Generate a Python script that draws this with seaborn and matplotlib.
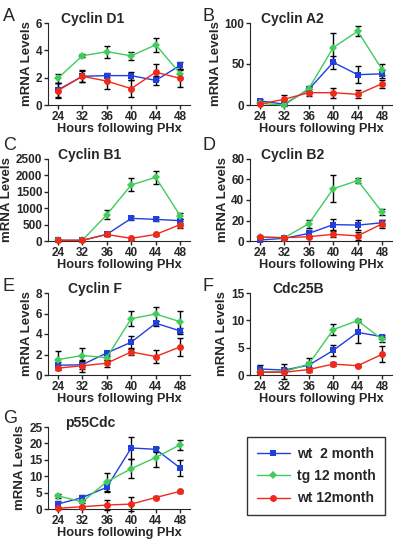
import numpy as np
import pandas as pd
import seaborn as sns
import matplotlib.pyplot as plt

hours = ["24", "32", "36", "40", "44", "48"]
groups = ["wt  2 month", "tg 12 month", "wt 12month"]

# mean values per panel, order: wt 2 month, tg 12 month, wt 12 month
d1_wt2 = [1.1, 2.1, 2.15, 2.15, 1.8, 2.9]
d1_tg12 = [1.95, 3.6, 3.9, 3.6, 4.4, 2.3]
d1_wt12 = [1.05, 2.1, 1.75, 1.2, 2.4, 1.95]
d1_err = [[0.5, 0.4, 0.1, 0.3, 0.35, 0.25], [0.35, 0.1, 0.45, 0.3, 0.5, 0.3], [0.55, 0.45, 0.6, 0.65, 0.6, 0.6]]

a2_wt2 = [5, 1, 19, 52, 37, 38]
a2_tg12 = [2, 0, 20, 70, 90, 43]
a2_wt12 = [1, 7, 15, 15, 13, 26]
a2_err = [[2, 1, 3, 8, 10, 5], [1, 1, 3, 18, 6, 7], [1, 5, 4, 6, 5, 5]]

b1_wt2 = [20, 20, 200, 690, 660, 620]
b1_tg12 = [20, 20, 800, 1710, 1940, 765]
b1_wt12 = [20, 20, 200, 80, 200, 500]
b1_err = [[10, 10, 40, 60, 60, 60], [10, 10, 140, 200, 200, 80], [10, 10, 50, 40, 50, 100]]

b2_wt2 = [1, 2.6, 7.4, 16, 15.5, 17.8]
b2_tg12 = [3.9, 3.2, 16.8, 51, 59, 28]
b2_wt12 = [3.9, 3.2, 4.2, 6.5, 5, 16.8]
b2_err = [[1, 1, 3, 5, 5, 3], [1, 1, 4, 13, 2, 3], [1, 1, 1, 3, 4, 4]]

f_wt2 = [0.95, 1.0, 2.15, 3.2, 5.05, 4.3]
f_tg12 = [1.5, 1.9, 1.7, 5.5, 5.95, 5.2]
f_wt12 = [0.67, 0.9, 1.15, 2.25, 1.8, 2.75]
f_err = [[0.3, 0.4, 0.1, 0.6, 0.25, 0.3], [0.8, 0.7, 0.2, 0.75, 0.7, 1.0], [0.15, 0.6, 0.35, 0.25, 0.6, 0.9]]

c25_wt2 = [1.1, 0.9, 1.8, 4.5, 7.8, 7.0]
c25_tg12 = [0.6, 0.6, 2.0, 8.3, 9.95, 6.5]
c25_wt12 = [0.5, 0.5, 1.0, 2.0, 1.7, 3.8]
c25_err = [[0.8, 0.4, 0.5, 1.0, 2.0, 0.4], [0.4, 1.4, 1.1, 1.0, 0.3, 0.5], [0.2, 0.2, 0.5, 0.3, 0.3, 1.5]]

p55_wt2 = [1.5, 3.5, 6.6, 18.6, 18.2, 12.5]
p55_tg12 = [4.0, 2.2, 8.3, 12.3, 15.7, 19.6]
p55_wt12 = [0.2, 0.7, 1.2, 1.5, 3.5, 5.4]
p55_err = [[1.0, 0.9, 1.3, 3.4, 0.8, 2.3], [0.5, 0.5, 2.8, 2.8, 3.0, 1.5], [0.2, 0.3, 1.5, 2.2, 0.4, 0.5]]

panels = [
    ("A", "Cyclin D1", [d1_wt2, d1_tg12, d1_wt12], d1_err, [0, 2, 4, 6]),
    ("B", "Cyclin A2", [a2_wt2, a2_tg12, a2_wt12], a2_err, [0, 50, 100]),
    ("C", "Cyclin B1", [b1_wt2, b1_tg12, b1_wt12], b1_err, [0, 500, 1000, 1500, 2000, 2500]),
    ("D", "Cyclin B2", [b2_wt2, b2_tg12, b2_wt12], b2_err, [0, 20, 40, 60, 80]),
    ("E", "Cyclin F", [f_wt2, f_tg12, f_wt12], f_err, [0, 2, 4, 6, 8]),
    ("F", "Cdc25B", [c25_wt2, c25_tg12, c25_wt12], c25_err, [0, 5, 10, 15]),
    ("G", "p55Cdc", [p55_wt2, p55_tg12, p55_wt12], p55_err, [0, 5, 10, 15, 20, 25]),
]
title_x = [0.09, 0.08, 0.07, 0.08, 0.14, 0.16, 0.12]

colors = {"wt  2 month": "#1f3fe0", "tg 12 month": "#3fcc5a", "wt 12month": "#f02a1a"}
markers = {"wt  2 month": "s", "tg 12 month": "D", "wt 12month": "o"}
msize = {"wt  2 month": 5, "tg 12 month": 4, "wt 12month": 5}

sns.set_style("ticks")
plt.rcParams["font.family"] = ["Liberation Sans", "DejaVu Sans"]
plt.rcParams["font.weight"] = "bold"

fig = plt.figure(figsize=(4.0, 5.41), dpi=100)
W, H = 400, 541
lefts = [48, 250]
tops = [23, 159, 293, 427]
letter_tops = [8, 137, 278, 410]
aw, ah = 142, 82

for i, (letter, title, vals, errs, yt) in enumerate(panels):
    col, row = i % 2, i // 2
    ax = fig.add_axes([lefts[col] / W, 1 - (tops[row] + ah) / H, aw / W, ah / H])
    x = np.arange(len(hours))
    df = pd.DataFrame({
        "x": np.tile(x, 3),
        "y": np.concatenate(vals),
        "group": np.repeat(groups, len(hours)),
    })
    for g, v, e in zip(groups, vals, errs):
        ax.errorbar(x, v, yerr=e, fmt="none", ecolor="black", elinewidth=1,
                    capsize=2.5, capthick=1, zorder=1, clip_on=False)
    for g in groups:
        sub = df[df["group"] == g]
        sns.lineplot(data=sub, x="x", y="y", color=colors[g], marker=markers[g],
                     markersize=msize[g], markeredgewidth=0, linewidth=1,
                     ax=ax, label=g, zorder=3, clip_on=False)
    ax.legend_.remove()
    ax.set_xlim(-0.4, 5.4)
    ax.set_ylim(0, yt[-1])
    ax.set_xticks(x)
    ax.set_xticklabels(hours)
    ax.set_yticks(yt)
    ax.tick_params(labelsize=8.5, length=3, width=1, pad=1)
    for lab in ax.get_xticklabels() + ax.get_yticklabels():
        lab.set_fontweight("bold")
    ax.set_xlabel("Hours following PHx", fontsize=9.2, fontweight="bold", labelpad=0)
    ax.set_ylabel("mRNA Levels", fontsize=9.5, fontweight="bold", labelpad=2)
    sns.despine(ax=ax)
    ax.text(title_x[i], 1.0, title, transform=ax.transAxes, fontsize=10,
            fontweight="bold", va="baseline")
    fig.text((3 if col == 0 else 203) / W, 1 - letter_tops[row] / H, letter,
             fontsize=13, fontweight="normal", va="top")

handles, labels = ax.get_legend_handles_labels()
leg = fig.legend(handles, labels, loc="upper left",
                 bbox_to_anchor=(247 / W, 1 - 437 / H), borderaxespad=0,
                 frameon=True, fancybox=False, edgecolor="black", fontsize=10,
                 handlelength=2.4, handletextpad=0.5, borderpad=0.7,
                 labelspacing=0.6)
leg.get_frame().set_linewidth(1)
for t in leg.get_texts():
    t.set_fontweight("bold")

fig.savefig("out.png", dpi=100)
